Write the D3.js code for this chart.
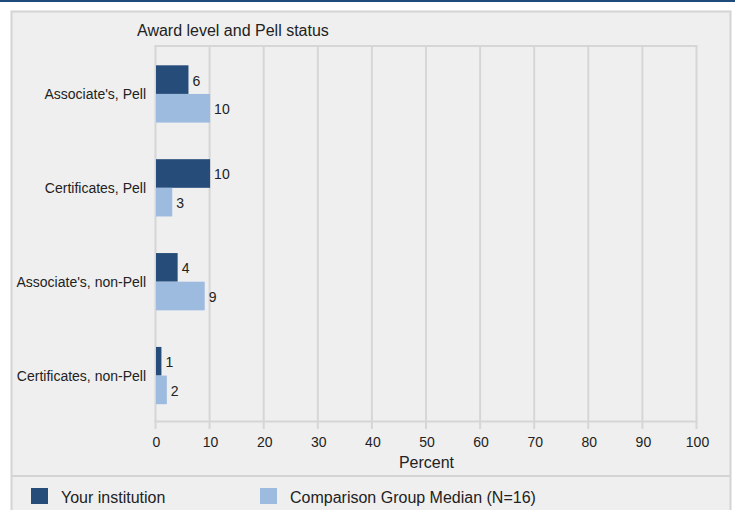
<!DOCTYPE html>
<html><head><meta charset="utf-8">
<script src="https://cdn.jsdelivr.net/npm/d3@7"></script>
<style>
html,body{margin:0;padding:0;background:#fff;}
svg{display:block;font-family:"Liberation Sans",Arial,sans-serif;}
</style></head>
<body>
<svg id="chart" width="735" height="510"></svg>
<script>
const categories = ["Associate's, Pell", "Certificates, Pell", "Associate's, non-Pell", "Certificates, non-Pell"];
const seriesNames = ["Your institution", "Comparison Group Median (N=16)"];
const yourInstitution = [6, 10, 4, 1];
const comparisonMedian = [10, 3, 9, 2];
const xTicks = [0, 10, 20, 30, 40, 50, 60, 70, 80, 90, 100];
const colors = ["#264d7a", "#9dbadf"];
const FONT = "Liberation Sans, Arial, sans-serif";

const svg = d3.select("#chart");
// top rule and panel
svg.append("rect").attr("x", 0).attr("y", 0).attr("width", 735).attr("height", 2).attr("fill", "#1f4b7a");
svg.append("rect").attr("x", 11.5).attr("y", 11.5).attr("width", 719).attr("height", 510)
  .attr("fill", "#efefef").attr("stroke", "#d4d4d4").attr("stroke-width", 2);
svg.append("line").attr("x1", 12).attr("x2", 730).attr("y1", 476).attr("y2", 476)
  .attr("stroke", "#d4d4d4").attr("stroke-width", 2);

const x = d3.scaleLinear().domain([0, 100]).range([156, 697]);
const y = d3.scaleBand().domain(categories).range([47, 422.5]).paddingInner(0.39).paddingOuter(0.195);
const ySub = d3.scaleBand().domain([0, 1]).range([0, y.bandwidth()]);

// gridlines
const g = svg.append("g");
g.selectAll("line.grid").data(xTicks).join("line")
  .attr("x1", d => x(d) - 0.5).attr("x2", d => x(d) - 0.5)
  .attr("y1", 46).attr("y2", 429)
  .attr("stroke", "#d6d6d6").attr("stroke-width", 2);
g.append("line").attr("x1", x(0) - 1.5).attr("x2", x(100) + 0.5).attr("y1", 46).attr("y2", 46)
  .attr("stroke", "#d6d6d6").attr("stroke-width", 2);
g.append("line").attr("x1", x(0) - 1.5).attr("x2", x(100) + 0.5).attr("y1", 421.5).attr("y2", 421.5)
  .attr("stroke", "#d6d6d6").attr("stroke-width", 2);

// x axis labels
const xAxis = d3.axisBottom(x).tickValues(xTicks).tickSize(0).tickPadding(0);
const ax = svg.append("g").attr("transform", "translate(0,447)").call(xAxis);
ax.select(".domain").remove();
ax.selectAll("text").attr("font-size", 14).attr("fill", "#222").attr("y", 0).attr("dy", 0)
  .attr("font-family", FONT);
svg.append("text").attr("x", x(50)).attr("y", 468).attr("text-anchor", "middle")
  .attr("font-size", 16).attr("fill", "#222").text("Percent");

// y axis labels
const yAxis = d3.axisLeft(y).tickSize(0).tickPadding(0);
const ay = svg.append("g").attr("transform", "translate(146,0)").call(yAxis);
ay.select(".domain").remove();
ay.selectAll("text").attr("font-size", 14).attr("fill", "#222").attr("dy", "0.36em")
  .attr("font-family", FONT);

// title
svg.append("text").attr("x", 137).attr("y", 36).attr("font-size", 16).attr("fill", "#222")
  .text("Award level and Pell status");

// bars
const series = [yourInstitution, comparisonMedian];
const rows = [];
categories.forEach((c, i) => series.forEach((s, j) => rows.push({c, j, v: s[i]})));
svg.append("g").selectAll("rect").data(rows).join("rect")
  .attr("x", x(0)).attr("y", d => y(d.c) + ySub(d.j))
  .attr("width", d => x(d.v) - x(0)).attr("height", ySub.bandwidth())
  .attr("fill", d => colors[d.j]);
svg.append("g").selectAll("text").data(rows).join("text")
  .attr("x", d => x(d.v) + 4).attr("y", d => y(d.c) + ySub(d.j) + ySub.bandwidth() / 2)
  .attr("dy", "0.42em").attr("font-size", 14).attr("fill", "#222").text(d => d.v);

// legend
const legX = [31, 260];
const lg = svg.append("g").selectAll("g").data(seriesNames).join("g")
  .attr("transform", (d, i) => `translate(${legX[i]},488)`);
lg.append("rect").attr("width", 17).attr("height", 16).attr("fill", (d, i) => colors[i]);
lg.append("text").attr("x", 30).attr("y", 14.7).attr("font-size", 16)
  .attr("fill", "#222").text(d => d);
</script>
</body></html>
